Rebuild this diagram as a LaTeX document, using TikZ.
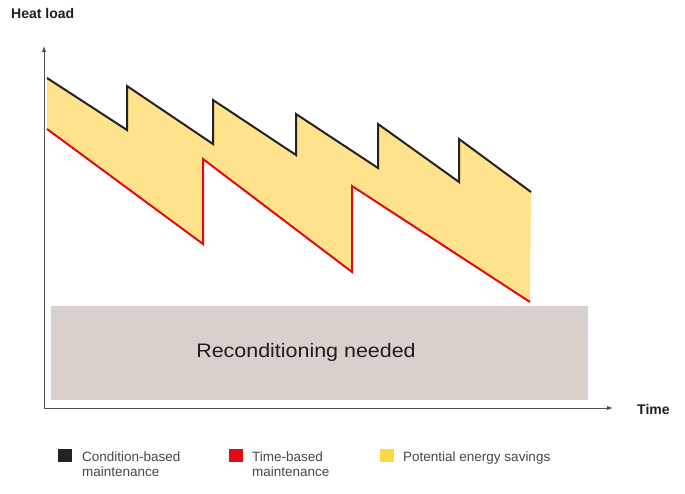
\documentclass[tikz,border=0pt]{standalone}
\usepackage{fontspec}
\setmainfont{Liberation Sans}
\newfontfamily\widefont[FakeStretch=1.1]{Liberation Sans}
\usetikzlibrary{arrows.meta}
\definecolor{savefill}{RGB}{255,226,140}
\definecolor{saveleg}{RGB}{255,216,64}
\definecolor{cbmcol}{RGB}{35,35,35}
\definecolor{tbmcol}{RGB}{228,10,20}
\definecolor{recol}{RGB}{217,208,203}
\definecolor{axcol}{RGB}{80,80,80}
\definecolor{txtcol}{RGB}{30,30,30}
\definecolor{legtxt}{RGB}{70,70,70}
\begin{document}
\begin{tikzpicture}[x=1pt,y=-1pt,
  cbmline/.style={draw=cbmcol,line width=2pt,line join=miter},
  tbmline/.style={draw=tbmcol,line width=2pt,line join=miter},
  axisline/.style={draw=axcol,line width=1pt,-{Latex[length=6pt,width=4.5pt]}},
  axlabel/.style={font=\fontsize{14}{16}\selectfont\bfseries,text=txtcol,inner sep=0pt},
  legbox/.style={minimum width=14pt,minimum height=13pt,inner sep=0pt,anchor=north west},
  legtext/.style={font=\fontsize{13.5}{15.5}\selectfont,text=legtxt,inner sep=0pt,anchor=base west}]
\useasboundingbox (0,0) rectangle (685,494);
% savings area
\fill[savefill] (47,78) -- (127,130) -- (127,86) -- (213,144) -- (213,100) -- (296,155) -- (296,114) -- (378,168) -- (378,124) -- (459,182) -- (459,139) -- (531,192) -- (530,302) -- (352,186) -- (352,272) -- (203,159) -- (203,244) -- (47,129) -- cycle;
\draw[cbmline] (47,78) -- (127,130) -- (127,86) -- (213,144) -- (213,100) -- (296,155) -- (296,114) -- (378,168) -- (378,124) -- (459,182) -- (459,139) -- (531,192);
\draw[tbmline] (47,129) -- (203,244) -- (203,159) -- (352,272) -- (352,186) -- (530,302);
% reconditioning band
\node[fill=recol,minimum width=537pt,minimum height=94pt,inner sep=0pt,anchor=north west] (recond) at (51,306) {};
\node[font=\widefont\fontsize{19.5}{22}\selectfont,text=txtcol] (rtext) at (306,352) {Reconditioning needed};
% axes
\coordinate (origin) at (44,408);
\coordinate (ytip) at (44,46);
\coordinate (xtip) at (613,408);
\draw[axisline] (origin) -- (ytip);
\draw[axisline] (origin) -- (xtip);
\node[axlabel,anchor=base west] (ylab) at (11,19) {Heat load};
\node[axlabel,anchor=base west] (xlab) at (637,414) {Time};
% legend
\node[legbox,fill=cbmcol] (lk1) at (58,449) {};
\node[legtext] (lt1) at (82,461) {Condition-based};
\node[legtext] (lt1b) at (82,476) {maintenance};
\node[legbox,fill=tbmcol] (lk2) at (229,449) {};
\node[legtext] (lt2) at (252,461) {Time-based};
\node[legtext] (lt2b) at (252,476) {maintenance};
\node[legbox,fill=saveleg] (lk3) at (380,449) {};
\node[legtext] (lt3) at (403,461) {Potential energy savings};
\end{tikzpicture}
\end{document}
